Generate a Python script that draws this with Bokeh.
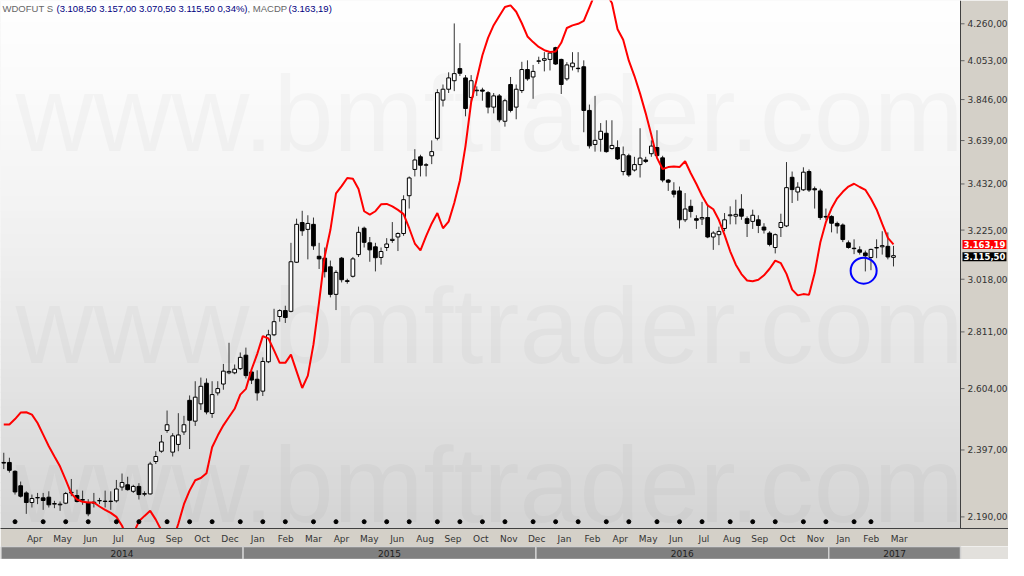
import numpy as np
from bokeh.plotting import figure
from bokeh.models import (Range1d, FixedTicker, CustomJSTickFormatter, Label,
                          BoxAnnotation, ColumnDataSource, Span)
from bokeh.layouts import column
from bokeh.embed import file_html
from bokeh.resources import INLINE
from bokeh.core.properties import value

# ---------------- data (weekly bars, Mar 2014 - Mar 2017) ----------------
opens = [2357, 2357, 2329, 2284, 2262, 2233, 2247, 2247, 2249, 2228,
         2226, 2231, 2262, 2254, 2240, 2233, 2231, 2238, 2236, 2237,
         2238, 2280, 2287, 2267, 2282, 2258, 2259, 2360, 2393, 2461,
         2390, 2415, 2456, 2563, 2492, 2551, 2623, 2518, 2589, 2620,
         2660, 2660, 2675, 2724, 2663, 2637, 2595, 2700, 2800, 2870,
         2893, 2890, 3088, 3258, 3228, 3250, 3113, 3105, 3069, 2957,
         3105, 3012, 3030, 3120, 3233, 3170, 3153, 3108, 3150, 3180,
         3195, 3210, 3378, 3500, 3560, 3520, 3565, 3650, 3843, 3900,
         3945, 4010, 3960, 3857, 3892, 3896, 3882, 3807, 3865, 3735,
         3925, 3807, 3893, 4005, 3965, 4050, 4055, 4060, 4125, 4060,
         3955, 4020, 4012, 4020, 3790, 3620, 3645, 3675, 3600, 3605,
         3490, 3565, 3497, 3523, 3545, 3575, 3605, 3555, 3450, 3400,
         3400, 3270, 3330, 3275, 3274, 3280, 3195, 3205, 3232, 3288,
         3286, 3318, 3275, 3263, 3270, 3238, 3212, 3150, 3236, 3243,
         3463, 3395, 3405, 3490, 3410, 3400, 3285, 3285, 3254, 3247,
         3170, 3147, 3140, 3127, 3108, 3148, 3153, 3155, 3108.5]
highs = [2388, 2372, 2332, 2297, 2267, 2257, 2262, 2262, 2267, 2238,
         2236, 2265, 2305, 2272, 2269, 2243, 2262, 2247, 2269, 2267,
         2302, 2322, 2312, 2287, 2292, 2267, 2359, 2393, 2446, 2528,
         2452, 2519, 2510, 2580, 2630, 2643, 2640, 2630, 2630, 2692,
         2770, 2690, 2734, 2752, 2670, 2669, 2716, 2819, 2900, 2898,
         2912, 3170, 3275, 3310, 3290, 3280, 3170, 3150, 3095, 3055,
         3110, 3020, 3110, 3240, 3240, 3195, 3170, 3150, 3190, 3260,
         3215, 3380, 3467, 3597, 3570, 3530, 3640, 3900, 3925, 3990,
         4262, 4150, 3975, 3975, 3915, 3908, 3890, 3880, 3875, 3850,
         3965, 3925, 4047, 4055, 4030, 4075, 4100, 4100, 4130, 4064,
         4045, 4100, 4100, 4055, 3820, 3865, 3726, 3740, 3740, 3640,
         3610, 3575, 3560, 3700, 3560, 3640, 3690, 3565, 3455, 3440,
         3420, 3390, 3360, 3290, 3350, 3340, 3220, 3240, 3300, 3330,
         3360, 3385, 3285, 3315, 3290, 3255, 3220, 3210, 3297, 3535,
         3490, 3440, 3510, 3500, 3420, 3410, 3320, 3290, 3262, 3254,
         3180, 3185, 3155, 3137, 3145, 3185, 3220, 3215, 3157]
lows = [2336, 2325, 2257, 2248, 2199, 2218, 2228, 2211, 2218, 2216,
        2208, 2228, 2252, 2233, 2226, 2192, 2218, 2228, 2218, 2211,
        2233, 2269, 2269, 2262, 2242, 2252, 2257, 2352, 2388, 2453,
        2376, 2393, 2446, 2400, 2476, 2530, 2515, 2503, 2580, 2600,
        2655, 2655, 2670, 2640, 2620, 2562, 2578, 2695, 2795, 2850,
        2845, 2886, 3085, 3200, 3100, 3140, 3060, 3025, 2945, 2895,
        3005, 3000, 3025, 3110, 3150, 3090, 3050, 3078, 3135, 3170,
        3135, 3200, 3320, 3467, 3467, 3467, 3525, 3640, 3810, 3880,
        3890, 3970, 3760, 3830, 3865, 3840, 3775, 3775, 3730, 3708,
        3780, 3745, 3880, 3945, 3850, 4035, 3995, 4000, 4030, 3875,
        3945, 4000, 3990, 3680, 3600, 3585, 3585, 3580, 3595, 3545,
        3472, 3465, 3490, 3462, 3530, 3560, 3560, 3440, 3400, 3370,
        3232, 3260, 3280, 3230, 3247, 3190, 3140, 3160, 3220, 3250,
        3250, 3270, 3195, 3230, 3212, 3210, 3155, 3125, 3195, 3238,
        3345, 3355, 3400, 3395, 3320, 3270, 3270, 3215, 3210, 3173,
        3145, 3122, 3120, 3050, 3055, 3105, 3120, 3100, 3070.5]
closes = [2355, 2332, 2265, 2252, 2233, 2245, 2248, 2239, 2226, 2230,
          2228, 2260, 2264, 2236, 2242, 2199, 2234, 2239, 2237, 2236,
          2274, 2294, 2272, 2282, 2257, 2260, 2352, 2376, 2423, 2480,
          2443, 2446, 2480, 2495, 2574, 2612, 2523, 2583, 2604, 2666,
          2665, 2673, 2716, 2650, 2634, 2589, 2701, 2800, 2850, 2893,
          2866, 3090, 3250, 3222, 3254, 3157, 3102, 3049, 2957, 3046,
          3016, 3009, 3102, 3215, 3172, 3140, 3107, 3133, 3165, 3185,
          3210, 3360, 3460, 3545, 3520, 3522, 3585, 3882, 3900, 3960,
          3983, 3985, 3800, 3945, 3895, 3890, 3807, 3865, 3742, 3840,
          3790, 3900, 4005, 3955, 3995, 4052, 4064, 4095, 4035, 3925,
          4030, 4040, 4010, 3790, 3613, 3640, 3685, 3585, 3615, 3550,
          3570, 3474, 3523, 3554, 3538, 3612, 3566, 3450, 3440, 3385,
          3270, 3318, 3307, 3268, 3280, 3195, 3212, 3219, 3270, 3292,
          3294, 3286, 3254, 3290, 3245, 3225, 3163, 3205, 3258, 3415,
          3406, 3417, 3487, 3404, 3405, 3280, 3282, 3255, 3243, 3184,
          3150, 3145, 3130, 3115, 3142, 3150, 3158, 3110, 3115.5]
macdp = [2481, 2481, 2499, 2521, 2522, 2514, 2486, 2447, 2409, 2376,
         2344, 2302, 2260, 2242, 2235, 2233, 2233, 2221, 2211, 2202,
         2190, 2164, 2125, 2140, 2177, 2193, 2208, 2182, 2150, 2110,
         2120, 2170, 2228, 2269, 2301, 2308, 2323, 2406, 2444, 2478,
         2506, 2534, 2583, 2603, 2672, 2728, 2795, 2786, 2742, 2696,
         2696, 2726, 2665, 2606, 2650, 2764, 2927, 3113, 3225, 3389,
         3422, 3460, 3456, 3409, 3308, 3293, 3308, 3339, 3341, 3330,
         3314, 3295, 3233, 3167, 3138, 3199, 3254, 3300, 3233, 3262,
         3345, 3448, 3613, 3832, 3954, 4083, 4180, 4252, 4305, 4358,
         4367, 4330, 4263, 4188, 4156, 4129, 4111, 4101, 4104, 4152,
         4236, 4251, 4260, 4277, 4356, 4437, 4455, 4437, 4381, 4229,
         4169, 4053, 3970, 3877, 3775, 3666, 3555, 3502, 3511, 3514,
         3511, 3539, 3482, 3432, 3378, 3334, 3317, 3269, 3204, 3134,
         3078, 3039, 3013, 3010, 3016, 3034, 3061, 3095, 3084, 3040,
         2976, 2953, 2958, 2955, 3043, 3171, 3260, 3321, 3366, 3396,
         3420, 3433, 3418, 3405, 3364, 3316, 3252, 3191, 3163.19]

price_ticks = [2190, 2397, 2604, 2811, 3018, 3225, 3432, 3639, 3846, 4053, 4260]
month_labels = ["Apr", "May", "Jun", "Jul", "Aug", "Sep", "Oct", "Dec", "Jan", "Feb",
                "Mar", "Apr", "May", "Jun", "Aug", "Sep", "Oct", "Nov", "Dec", "Jan",
                "Feb", "Apr", "May", "Jun", "Jul", "Aug", "Sep", "Oct", "Nov", "Jan",
                "Feb", "Mar"]
years = ["2014", "2015", "2016", "2017"]
year_first_bar = [0, 43, 95, 147]
month_marker_bars = [2, 7, 11, 15, 20, 24, 29, 33, 37, 42, 46, 50, 55, 59, 64, 68, 72,
                     77, 81, 85, 89, 94, 98, 102, 107, 111, 116, 120, 124, 129, 133,
                     137, 142, 146, 151, 154]
marked_bar = [152.7]
marked_price = [3053]
title_symbol = "WDOFUT S"
title_ohlc = "(3.108,50 3.157,00 3.070,50 3.115,50 0,34%)"
title_ind = ", MACDP"
title_ind_val = "(3.163,19)"

# ---------------- layout constants ----------------
FWD = 960            # width of the price area (px)
AXW = 48             # width of the right price-scale strip (px)
FH = 528
X0, X1 = -0.58, 169.9
DPX = (X1 - X0) / FWD
X2 = X1 + AXW * DPX
Y0, Y1 = 2156, 4396
FONT = "DejaVu Sans"


def price_at(frac):
    """price at a fraction of the frame height measured from the top"""
    return Y1 * (Y0 / Y1) ** frac


def br(v):
    s = f"{v:,.2f}"
    return s.replace(",", "X").replace(".", ",").replace("X", ".")


n = len(closes)
idx = np.arange(n)
o = np.array(opens, float)
c = np.array(closes, float)

p = figure(frame_width=FWD + AXW, frame_height=FH, x_range=Range1d(X0, X2),
           y_range=Range1d(Y0, Y1), y_axis_type="log", y_axis_location=None,
           output_backend="svg", toolbar_location=None,
           min_border_left=0, min_border_top=0, min_border_bottom=0, min_border_right=0)
p.grid.visible = False
p.outline_line_color = None
p.background_fill_color = "#eeeeee"
p.border_fill_color = "#d4d0c8"

# gradient background
NB = 70
for k in range(NB):
    t = (k + 0.5) / NB
    g = int(round(254 - 42 * t ** 1.4))
    p.add_layout(BoxAnnotation(top=price_at(k / NB - 0.002), bottom=price_at((k + 1) / NB),
                               fill_color=f"#{g:02x}{g:02x}{g:02x}", fill_alpha=1.0,
                               line_alpha=0, level="image"))

# price-scale strip on the right
p.add_layout(BoxAnnotation(left=X1, fill_color="#d4d0c8", fill_alpha=1.0, line_alpha=0,
                           level="underlay"))

# watermark
wm = p.text(x=[X0] * 3, y=[price_at(117 / 545), price_at(335 / 545), price_at(500 / 545)],
            text=["www.bmftrader.com"] * 3, x_offset=15,
            text_font=value("Liberation Sans"), text_font_size=value("108px"),
            text_color="#000000", text_alpha=0.028, text_baseline="alphabetic")
wm.level = "underlay"

# candles
src = ColumnDataSource(dict(x=idx, top=np.maximum(o, c), bottom=np.minimum(o, c),
                            high=highs, low=lows,
                            fill=["white" if cc >= oo else "black" for oo, cc in zip(o, c)]))
p.segment(x0="x", y0="high", x1="x", y1="low", source=src, line_color="#333333", line_width=1)
p.vbar(x="x", width=0.66, top="top", bottom="bottom", fill_color="fill",
       line_color="black", line_width=1, source=src)

# MACDP line
p.line(idx, macdp, line_color="#ff0000", line_width=2)

# monthly markers
p.scatter(month_marker_bars, [price_at(538 / 545)] * len(month_marker_bars), marker="circle",
          size=4, fill_color="black", line_color="black")

# blue circle highlight
p.scatter(marked_bar, marked_price, marker="circle", size=26, fill_color=None,
          line_color="#0000ff", line_width=2)

# right price scale (drawn in the strip)
p.add_layout(Span(location=X1, dimension="height", line_color="#404040", line_width=1))
p.segment(x0=[X1] * len(price_ticks), x1=[X1 + 4 * DPX] * len(price_ticks),
          y0=price_ticks, y1=price_ticks, line_color="#666666", line_width=1)
p.text(x=[X1] * len(price_ticks), y=price_ticks, text=[br(v) for v in price_ticks],
       x_offset=7, text_font=value(FONT), text_font_size=value("9px"),
       text_color="#333333", text_baseline="middle", text_align="left")

# bottom axis (months); label centres sit just right of each month tick
tick_pos = list(np.linspace(5.5, 159.0, len(month_labels)))
p.xaxis.ticker = FixedTicker(ticks=tick_pos, minor_ticks=[])
p.xaxis.formatter = CustomJSTickFormatter(args=dict(pos=tick_pos, labs=month_labels), code="""
let best = 0;
for (let i = 1; i < pos.length; i++) {
  if (Math.abs(pos[i] - tick) < Math.abs(pos[best] - tick)) best = i;
}
return labs[best];
""")
p.xaxis.minor_tick_line_color = None
p.xaxis.major_tick_in = 0
p.xaxis.major_tick_out = 0
p.xaxis.major_tick_line_color = None
p.xaxis.axis_line_color = "#404040"
p.xaxis.major_label_text_font = FONT
p.xaxis.major_label_text_font_size = "9px"
p.xaxis.major_label_text_color = "#333333"
p.xaxis.major_label_standoff = 5

# title (inside frame, top-left)
ty = price_at(8 / 545)
for txt, off, col in [(title_symbol, 2, "#666666"), (title_ohlc, 56, "#000080"),
                      (title_ind, 247, "#666666"), (title_ind_val, 288, "#000080")]:
    p.add_layout(Label(x=X0, y=ty, x_offset=off, text=txt, text_font="Liberation Sans",
                       text_font_size="9.5px", text_color=col, text_baseline="middle",
                       text_align="left"))

# price tags on the right scale
p.add_layout(Label(x=X1, y=macdp[-1], x_offset=2, y_offset=0, text=br(macdp[-1]),
                   text_font=FONT, text_font_size="8.5px", text_font_style="bold",
                   text_color="white", background_fill_color="#ff0000",
                   text_baseline="middle", text_align="left", padding=1))
p.add_layout(Label(x=X1, y=closes[-1], x_offset=2, y_offset=-1, text=br(closes[-1]),
                   text_font=FONT, text_font_size="8.5px", text_font_style="bold",
                   text_color="white", background_fill_color="#000000",
                   text_baseline="middle", text_align="left", padding=1))

# year bar
yb = figure(frame_width=FWD + AXW, frame_height=13, x_range=p.x_range, y_range=Range1d(0, 1),
            output_backend="svg", toolbar_location=None,
            min_border_left=0, min_border_top=0, min_border_bottom=0, min_border_right=0)
yb.axis.visible = False
yb.grid.visible = False
yb.outline_line_color = None
yb.background_fill_color = "#e2e0dc"
yb.border_fill_color = "#e2e0dc"
lefts = [max(X0, b - 0.5) for b in year_first_bar]
rights = [b - 0.5 for b in year_first_bar[1:]] + [X1]
yb.quad(left=lefts, right=rights, bottom=0, top=1, fill_color="#808080",
        line_color="#cfcfcf", line_width=1.5)
yb.text(x=[(a + b) / 2 for a, b in zip(lefts, rights)], y=[0.45] * len(years), text=years,
        text_font=value(FONT), text_font_size=value("9px"), text_color="#1e1e1e",
        text_align="center", text_baseline="middle")

layout = column(p, yb, spacing=0)
open("out.html", "w").write(file_html(layout, INLINE))
